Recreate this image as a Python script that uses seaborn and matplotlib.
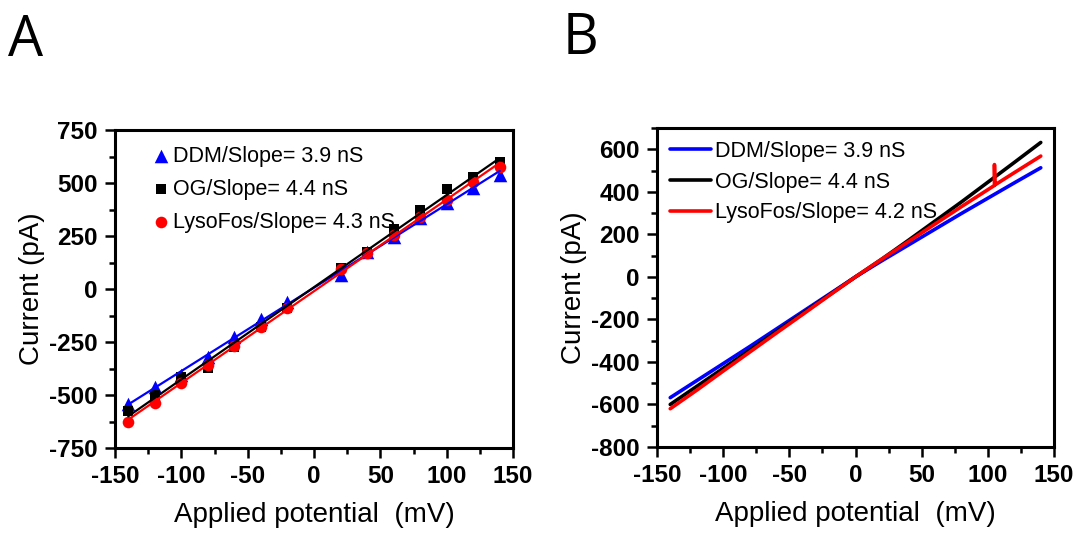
import numpy as np
import pandas as pd
import matplotlib
matplotlib.use("Agg")
import matplotlib.pyplot as plt
from matplotlib.ticker import MultipleLocator
import seaborn as sns

# ---------------- data ----------------
# Panel A: measured points
volt_a = [-140, -120, -100, -80, -60, -40, -20, 20, 40, 60, 80, 100, 120, 140]
ddm_a = [-542, -461, -406, -319, -225, -143, -60, 66, 176, 247, 336, 404, 475, 538]
og_a = [-574, -500, -414, -374, -275, -178, -91, 98, 176, 282, 373, 472, 527, 598]
lyso_a = [-629, -536, -442, -358, -269, -178, -91, 93, 168, 255, 341, 420, 506, 574]
labels_a = ["DDM/Slope= 3.9 nS", "OG/Slope= 4.4 nS", "LysoFos/Slope= 4.3 nS"]

# Panel B: I-V traces
volt_b = [-140, -120, -100, -80, -60, -40, -20, 0, 20, 40, 60, 80, 100, 120, 140]
ddm_b = [-568, -488, -408, -328, -246, -164, -82, 0, 76, 150, 224, 298, 370, 442, 513]
og_b = [-600, -515, -430, -345, -258, -172, -86, 0, 84, 172, 262, 352, 445, 538, 632]
volt_b_lyso = [-140, -120, -100, -80, -60, -40, -20, 0, 20, 40, 60, 80, 100, 105, 105, 105.3, 120, 140]
lyso_b = [-620, -533, -443, -354, -265, -177, -88, 0, 84, 166, 248, 330, 410, 430, 528, 432, 490, 568]
labels_b = ["DDM/Slope= 3.9 nS", "OG/Slope= 4.4 nS", "LysoFos/Slope= 4.2 nS"]

colors = ["#0000ff", "#000000", "#ff0000"]

# ---------------- style ----------------
sns.set_theme(style="ticks")
plt.rcParams["font.family"] = ["Liberation Sans", "DejaVu Sans"]
plt.rcParams["axes.unicode_minus"] = False
plt.rcParams["text.color"] = "black"
plt.rcParams["axes.labelcolor"] = "black"
plt.rcParams["xtick.color"] = "black"
plt.rcParams["ytick.color"] = "black"
plt.rcParams["axes.edgecolor"] = "black"

fig = plt.figure(figsize=(10.76, 5.35), dpi=100)
axA = fig.add_axes([115 / 1076, 1 - 448 / 535, 398 / 1076, 318 / 535])
axB = fig.add_axes([657 / 1076, 1 - 447 / 535, 397 / 1076, 319 / 535])


def style_axes(ax):
    for s in ax.spines.values():
        s.set_linewidth(2.2)
        s.set_color("black")
    ax.tick_params(which="major", direction="out", length=7.5, width=1.8,
                   labelsize=17.5, pad=5, colors="black")
    ax.tick_params(which="minor", direction="out", length=4.5, width=1.8, colors="black")
    for lab in ax.get_xticklabels() + ax.get_yticklabels():
        lab.set_fontweight("bold")
    ax.set_xlabel("Applied potential  (mV)", fontsize=20, labelpad=10, color="black")
    ax.set_ylabel("Current (pA)", fontsize=20, labelpad=3, color="black")
    ax.set_facecolor("white")


# ---------------- panel A ----------------
dfa = pd.DataFrame({"V": volt_a, "DDM": ddm_a, "OG": og_a, "Lyso": lyso_a})
markers = ["^", "s", "o"]
sizes = [95, 55, 70]
for col, c, m, s, lab in zip(["DDM", "OG", "Lyso"], colors, markers, sizes, labels_a):
    sns.scatterplot(data=dfa, x="V", y=col, color=c, marker=m, s=s, linewidth=0,
                    label=lab, ax=axA, zorder=3)
for col, c in zip(["DDM", "OG", "Lyso"], colors):
    sns.regplot(data=dfa, x="V", y=col, scatter=False, ci=None, color=c,
                line_kws={"lw": 1.6, "zorder": 4}, ax=axA)

axA.set_xlim(-150, 150)
axA.set_ylim(-750, 750)
axA.xaxis.set_major_locator(MultipleLocator(50))
axA.xaxis.set_minor_locator(MultipleLocator(25))
axA.yaxis.set_major_locator(MultipleLocator(250))
axA.yaxis.set_minor_locator(MultipleLocator(125))
style_axes(axA)
legA = axA.legend(loc="upper left", bbox_to_anchor=(0.055, 0.99), frameon=False,
                  fontsize=15.5, handletextpad=0.1, labelspacing=0.55,
                  handlelength=1.0, markerscale=1.0, borderaxespad=0.2)

# ---------------- panel B ----------------
dfb = pd.DataFrame({"V": volt_b, "DDM": ddm_b, "OG": og_b})
dfl = pd.DataFrame({"V": volt_b_lyso, "Lyso": lyso_b})
sns.lineplot(data=dfb, x="V", y="DDM", color=colors[0], lw=2.6, label=labels_b[0],
             ax=axB, sort=False, estimator=None)
sns.lineplot(data=dfb, x="V", y="OG", color=colors[1], lw=2.6, label=labels_b[1],
             ax=axB, sort=False, estimator=None)
sns.lineplot(data=dfl, x="V", y="Lyso", color=colors[2], lw=2.6, label=labels_b[2],
             ax=axB, sort=False, estimator=None)

axB.set_xlim(-150, 150)
axB.set_ylim(-800, 700)
axB.xaxis.set_major_locator(MultipleLocator(50))
axB.xaxis.set_minor_locator(MultipleLocator(25))
axB.yaxis.set_minor_locator(MultipleLocator(100))
axB.set_yticks([-800, -600, -400, -200, 0, 200, 400, 600])
style_axes(axB)
legB = axB.legend(loc="upper left", bbox_to_anchor=(0.0, 1.0), frameon=False,
                  fontsize=15.5, handletextpad=0.2, labelspacing=0.45,
                  handlelength=1.9, borderaxespad=0.2)

# panel letters
fig.text(8 / 1076, 1 - 56 / 535, "A", fontsize=40, family=["Open Sans", "DejaVu Sans"],
         va="baseline", ha="left")
fig.text(563 / 1076, 1 - 54 / 535, "B", fontsize=40, family=["Open Sans", "DejaVu Sans"],
         va="baseline", ha="left")

fig.savefig("out.png", dpi=100, facecolor="white")
